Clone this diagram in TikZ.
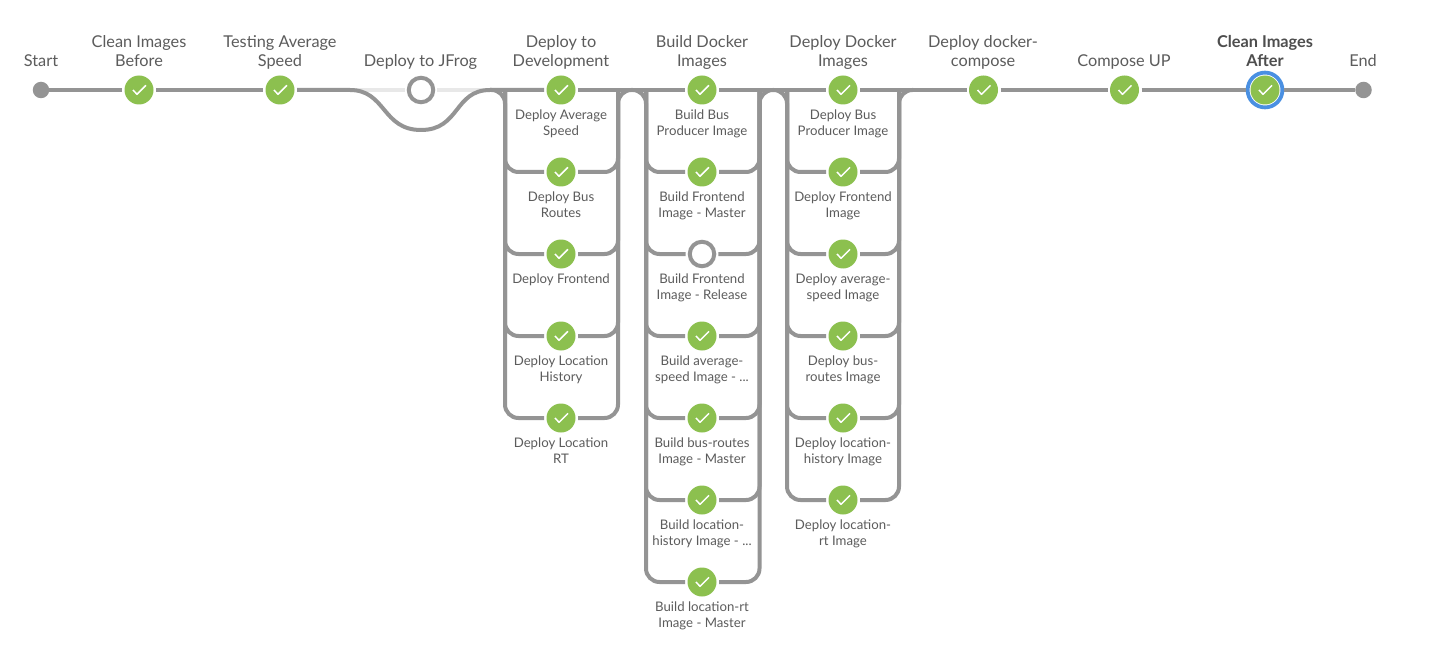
\documentclass[tikz,border=0pt]{standalone}
\usepackage{fontspec}
\setmainfont{Lato}
\definecolor{pipegrey}{HTML}{949494}
\definecolor{lightpipe}{HTML}{E8E8E8}
\definecolor{okgreen}{HTML}{8CC04F}
\definecolor{selblue}{HTML}{4A90E2}
\definecolor{labelgrey}{HTML}{5C5C5C}
\tikzset{
  pipe/.style={draw=pipegrey,line width=4pt},
  skipped/.style={draw=lightpipe,line width=4pt},
  tick/.style={path picture={\draw[white,line width=1.5pt,line join=round]
      ([shift={(-6pt,0pt)}]path picture bounding box.center)
      -- ([shift={(-2pt,-4.3pt)}]path picture bounding box.center)
      -- ([shift={(7pt,4.7pt)}]path picture bounding box.center);}},
  done/.style={circle,fill=okgreen,minimum size=29pt,inner sep=0pt,outer sep=2.5pt,tick},
  notrun/.style={circle,draw=pipegrey,line width=4pt,fill=white,minimum size=24.5pt,inner sep=0pt,outer sep=4.2pt},
  terminal/.style={circle,fill=pipegrey,minimum size=16.5pt,inner sep=0pt,outer sep=0pt},
  current/.style={circle,fill=okgreen,minimum size=29pt,inner sep=0pt,tick},
  selring/.style={circle,draw=selblue,fill=white,line width=3.8pt,minimum size=34.8pt,inner sep=0pt,outer sep=1.9pt},
  toplabel/.style={anchor=south,align=center,text=labelgrey,inner sep=0pt,font=\fontsize{16.3}{19.2}\selectfont},
  sublabel/.style={anchor=north,align=center,text=labelgrey,inner sep=0pt,font=\fontsize{13.2}{16}\selectfont},
}
\newcommand{\stagelabel}[3]{\node[toplabel] (#1t) at (#2,72.8) {#3\strut};}
\newcommand{\subnode}[5][done]{\node[#1] (#2) at (#3,#4) {};\node[sublabel] (#2t) at (#3,#4+20) {#5};}
\begin{document}
\begin{tikzpicture}[x=1pt,y=-1pt]
\path[use as bounding box,fill=white] (0,0) rectangle (1442,663);

% top-level stages
\node[terminal] (start) at (41,90) {};      \stagelabel{start}{41}{Start}
\node[done] (clean) at (139,90) {};         \stagelabel{clean}{139}{Clean Images\\Before}
\node[done] (test) at (280,90) {};          \stagelabel{test}{280}{Testing Average\\Speed}
\node[notrun] (jfrog) at (421,90) {};       \stagelabel{jfrog}{420.5}{Deploy to JFrog}
\stagelabel{dev}{561}{Deploy to\\Development}
\stagelabel{bld}{702}{Build Docker\\Images}
\stagelabel{dep}{843}{Deploy Docker\\Images}
\node[done] (comp) at (983.5,90) {};        \stagelabel{comp}{983}{Deploy docker-\\compose}
\node[done] (up) at (1124.5,90) {};         \stagelabel{up}{1124}{Compose UP}
\node[selring] (aftring) at (1265,90) {};
\node[current] (aft) at (1265,90) {};
\node[toplabel,font=\fontsize{16.3}{19.2}\selectfont\bfseries,text=labelgrey!85!black] (aftt) at (1265,72.8) {Clean Images\\After\strut};
\node[terminal] (end) at (1363.5,90) {};    \stagelabel{end}{1363}{End}

% Deploy to Development
\subnode{dev1}{561}{90}{Deploy Average\\Speed}
\subnode{dev2}{561}{172}{Deploy Bus\\Routes}
\subnode{dev3}{561}{254}{Deploy Frontend}
\subnode{dev4}{561}{336}{Deploy Location\\History}
\subnode{dev5}{561}{418}{Deploy Location\\RT}

% Build Docker Images
\subnode{bld1}{702}{90}{Build Bus\\Producer Image}
\subnode{bld2}{702}{172}{Build Frontend\\Image - Master}
\subnode[notrun]{bld3}{702}{254}{Build Frontend\\Image - Release}
\subnode{bld4}{702}{336}{Build average-\\speed Image - ...}
\subnode{bld5}{702}{418}{Build bus-routes\\Image - Master}
\subnode{bld6}{702}{500}{Build location-\\history Image - ...}
\subnode{bld7}{702}{582}{Build location-rt\\Image - Master}

% Deploy Docker Images
\subnode{dep1}{843}{90}{Deploy Bus\\Producer Image}
\subnode{dep2}{843}{172}{Deploy Frontend\\Image}
\subnode{dep3}{843}{254}{Deploy average-\\speed Image}
\subnode{dep4}{843}{336}{Deploy bus-\\routes Image}
\subnode{dep5}{843}{418}{Deploy location-\\history Image}
\subnode{dep6}{843}{500}{Deploy location-\\rt Image}

% routing points
\coordinate (skipIn) at (350,90);
\coordinate (skipLow) at (421,130);
\coordinate (skipOut) at (490,90);
\coordinate (devTL) at (505,90);   \coordinate (devBL) at (505,418);
\coordinate (devTR) at (618,90);   \coordinate (devBR) at (618,418);
\coordinate (bldTL) at (646,90);   \coordinate (bldBL) at (646,582);
\coordinate (bldTR) at (759.5,90); \coordinate (bldBR) at (759.5,582);
\coordinate (depTL) at (787,90);   \coordinate (depBL) at (787,500);
\coordinate (depTR) at (899,90);   \coordinate (depBR) at (899,500);
\coordinate (depOut) at (913,90);

% skipped stage (pale)
\draw[skipped] (skipIn) -- (jfrog);
\draw[skipped] (jfrog) -- (skipOut);

% main line
\draw[pipe] (start) -- (clean);
\draw[pipe] (clean) -- (test);
\draw[pipe] (test) -- (skipIn) .. controls (386,90) and (382,130) .. (skipLow)
      .. controls (460,130) and (454,90) .. (skipOut) -- (dev1);
\draw[pipe] (dev1) -- (bld1);
\draw[pipe] (bld1) -- (dep1);
\draw[pipe] (dep1) -- (comp);
\draw[pipe] (comp) -- (up);
\draw[pipe] (up) -- (aftring);
\draw[pipe] (aftring) -- (end);

% parallel trunks
\draw[pipe,rounded corners=13.5pt] (skipOut) -- (devTL) -- (devBL) -- (dev5);
\draw[pipe,rounded corners=13.5pt] (dev5) -- (devBR) -- (devTR) -- (bldTL) -- (bldBL) -- (bld7);
\draw[pipe,rounded corners=13.5pt] (bld7) -- (bldBR) -- (bldTR) -- (depTL) -- (depBL) -- (dep6);
\draw[pipe,rounded corners=13.5pt] (dep6) -- (depBR) -- (depTR) -- (depOut);

% branch rows
\foreach \n in {dev2,dev3,dev4}{
  \draw[pipe,rounded corners=13.5pt] (\n) -| (devTL);
  \draw[pipe,rounded corners=13.5pt] (\n) -| (devTR);
}
\foreach \n in {bld2,bld3,bld4,bld5,bld6}{
  \draw[pipe,rounded corners=13.5pt] (\n) -| (bldTL);
  \draw[pipe,rounded corners=13.5pt] (\n) -| (bldTR);
}
\foreach \n in {dep2,dep3,dep4,dep5}{
  \draw[pipe,rounded corners=13.5pt] (\n) -| (depTL);
  \draw[pipe,rounded corners=13.5pt] (\n) -| (depTR);
}
\end{tikzpicture}
\end{document}
